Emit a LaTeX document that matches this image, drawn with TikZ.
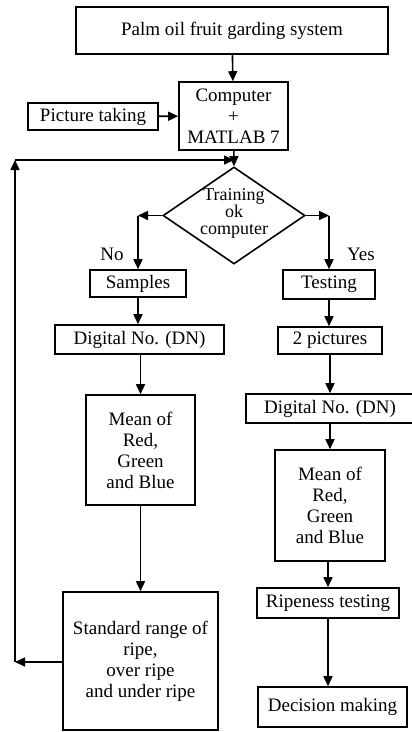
\documentclass[tikz,border=0pt]{standalone}
\usepackage{fontspec}
\setmainfont{Liberation Serif}
\usetikzlibrary{arrows.meta,shapes.geometric}
\tikzset{%
    box/.style={draw, line width=1.6pt, inner sep=0pt, align=center},
    decision/.style={diamond, draw, line width=1.6pt, inner sep=0pt,
        minimum width=142pt, minimum height=97pt},
    arr/.style={line width=1.6pt, -{Triangle[length=10pt,width=9pt]}}
}

\begin{document}
\begin{tikzpicture}[x=1pt, y=-1pt, font=\fontsize{19}{21}\selectfont]
\useasboundingbox (0,0) rectangle (412,732);
\node[box, minimum width=312pt, minimum height=47pt] (pofs) at (232,30.5) {Palm oil fruit garding system};
\node[box, minimum width=109pt, minimum height=68pt] (comp) at (233.5,116) {Computer\\+\\MATLAB 7};
\node[box, minimum width=130pt, minimum height=27pt] (pict) at (93,116.5) {Picture taking};
\node[decision] (dia) at (234,215.5) {};
\node[align=center, font=\fontsize{18}{17}\selectfont] (diatxt) at (234,213) {Training\\ok\\computer};
% training branch
\node[box, minimum width=96pt, minimum height=27pt] (smp) at (138,283.5) {Samples};
\node[box, minimum width=169pt, minimum height=29pt] (dnl) at (139.5,339.5) {Digital No. (DN)};
\node[box, minimum width=109pt, minimum height=110pt] (meanl) at (140.5,450) {Mean of\\Red,\\Green\\and Blue};
\node[box, minimum width=155pt, minimum height=138pt] (std) at (140.5,661) {Standard range of\\ripe,\\over ripe\\and under ripe};
% testing branch
\node[box, minimum width=92pt, minimum height=29pt] (tst) at (329,284.5) {Testing};
\node[box, minimum width=104pt, minimum height=27pt] (pics) at (330,340.5) {2 pictures};
\node[box, minimum width=168pt, minimum height=29pt] (dnr) at (330,408.5) {Digital No. (DN)};
\node[box, minimum width=110pt, minimum height=111pt] (meanr) at (330,505.5) {Mean of\\Red,\\Green\\and Blue};
\node[box, minimum width=142pt, minimum height=30pt] (ripe) at (328,603) {Ripeness testing};
\node[box, minimum width=149pt, minimum height=40pt] (dec) at (332.5,707) {Decision making};
\node (no) at (112,254) {No};
\node (yes) at (361,254) {Yes};
\coordinate (fbl) at (15,662);
\coordinate (fbt) at (15,160);

\draw[arr] (pofs) -- (comp);
\draw[arr] (pict) -- (comp);
\draw[arr] (comp) -- (dia.north);
\draw[arr] (dia.west) -- (dia.west -| smp.north);
\draw[arr] (dia.west -| smp.north) -- (smp.north);
\draw[arr] (dia.east) -- (dia.east -| tst.north);
\draw[arr] (dia.east -| tst.north) -- (tst.north);
\draw[arr] (smp) -- (smp |- dnl.north);
\draw[arr] (dnl.south -| meanl) -- (meanl);
\draw[arr] (meanl) -- (std);
\draw[arr] (std.west |- fbl) -- (fbl);
\draw[arr] (fbl) -- (fbt);
\draw[arr] (fbt) -- (fbt -| dia.north);
\draw[arr] (tst) -- (tst |- pics.north);
\draw[arr] (pics) -- (pics |- dnr.north);
\draw[arr] (dnr) -- (meanr);
\draw[arr] (meanr.south -| ripe) -- (ripe);
\draw[arr] (ripe) -- (ripe |- dec.north);
\end{tikzpicture}
\end{document}
